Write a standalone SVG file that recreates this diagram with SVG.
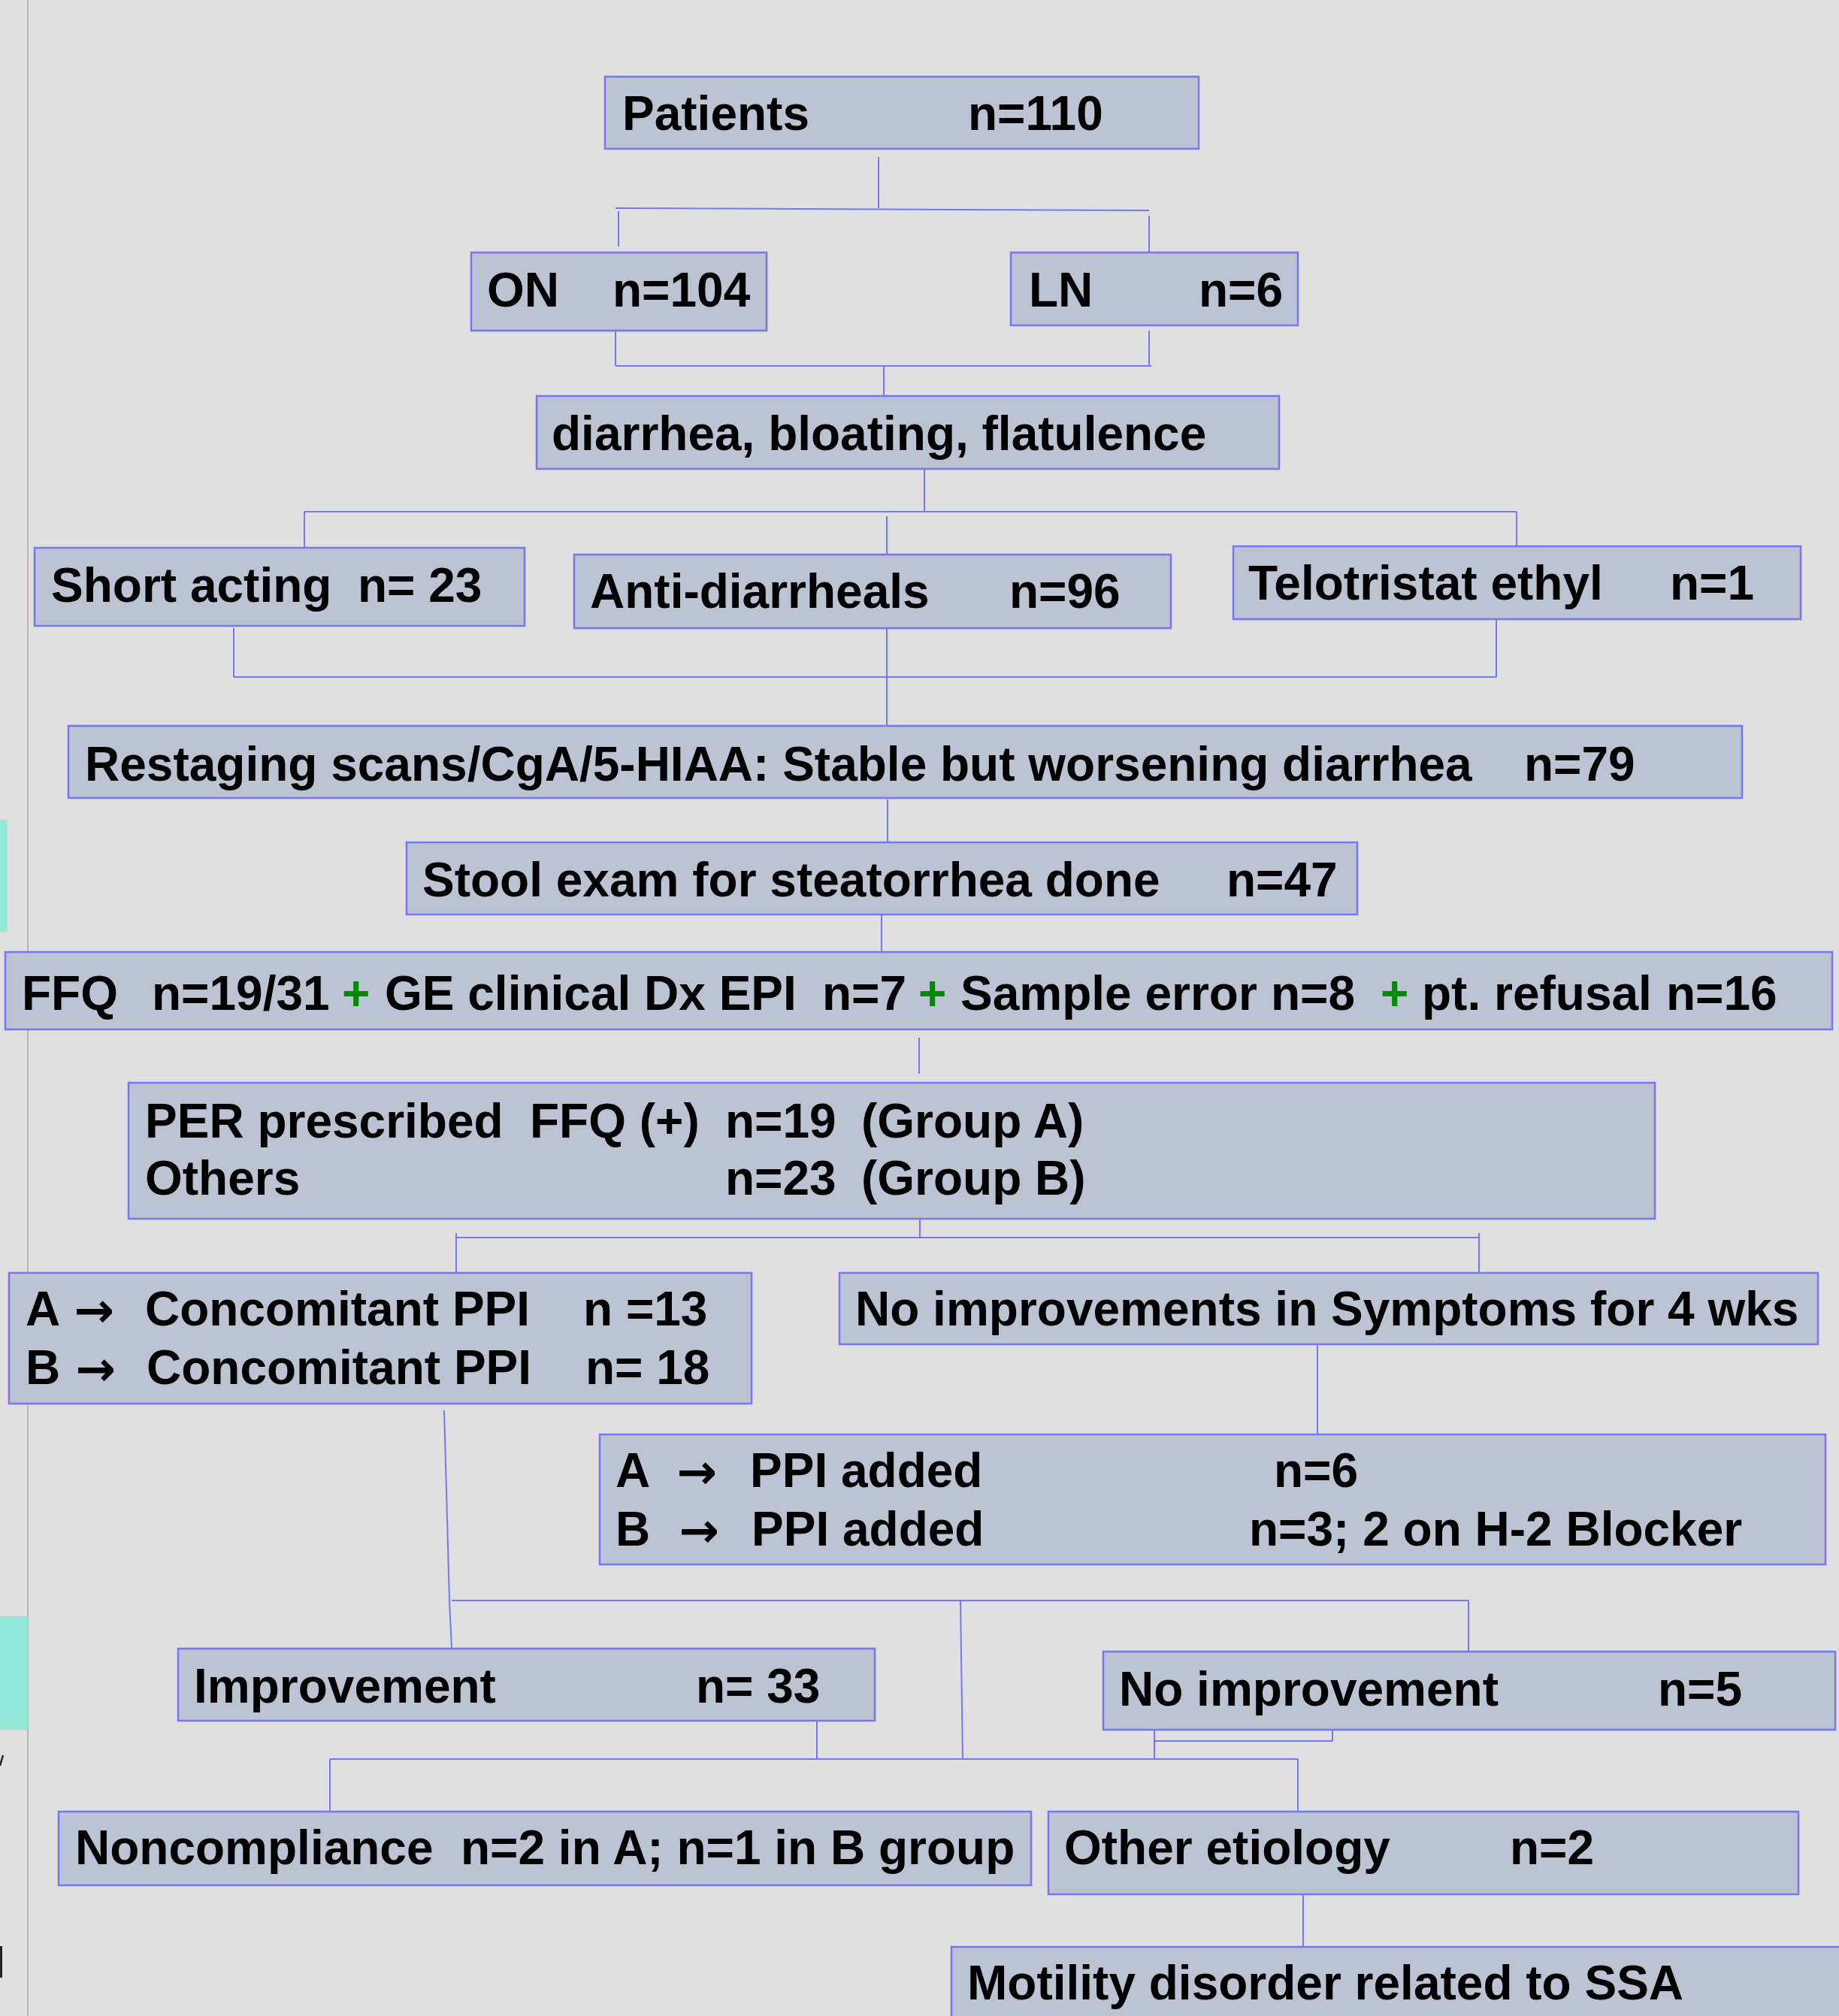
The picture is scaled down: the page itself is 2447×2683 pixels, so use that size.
<svg xmlns="http://www.w3.org/2000/svg" width="2447" height="2683" viewBox="0 0 2447 2683">
<style>
.box{fill:#bcc3d3;stroke:#7676f6;stroke-width:2.5}
.t{font-family:"Liberation Sans",Arial,"DejaVu Sans",sans-serif;font-weight:bold;font-size:64px;fill:#000}
.g{fill:#008a00}
.ar{font-family:"DejaVu Sans",sans-serif;font-weight:bold;font-size:64px;fill:#000;text-anchor:middle}
.c{stroke:#7676f6;stroke-width:2;fill:none}
</style>
<rect x="0" y="0" width="2447" height="2683" fill="#e0e0e0"/>
<g id="margin">
<line x1="37" y1="0" x2="37" y2="2683" stroke="#b4b4b4" stroke-width="2"/>
<rect x="0" y="1091" width="10" height="149" fill="#93e7d7"/>
<rect x="0" y="2151" width="37" height="151" fill="#93e7d7"/>
<line x1="0" y1="2350" x2="4" y2="2336" stroke="#222" stroke-width="2.5"/>
<line x1="1.5" y1="2590" x2="1.5" y2="2632" stroke="#222" stroke-width="3"/>
</g>
<g id="connectors">
<path class="c" d="M1169,209V277M819,277L1529,280M823,281V328M1529,287V336"/>
<path class="c" d="M819,434V487M1529,440V487M819,487H1532M1176,487V527"/>
<path class="c" d="M1230,625V681M405,681H2018M405,681V729M2018,681V727M1180,687V738"/>
<path class="c" d="M311,836V901M311,901H1991M1991,824V901M1180,836V966"/>
<path class="c" d="M1181,1064V1121M1173,1217V1286M1223,1381V1429"/>
<path class="c" d="M1224,1622V1647M607,1647H1968M607,1641V1695M1968,1641V1695M1753,1789V1909"/>
<path class="c" d="M591,1877L598,2130L601,2194M601,2130H1954M1954,2130V2198M1278,2131L1281,2341"/>
<path class="c" d="M1087,2290V2341" stroke="#4a4af0"/>
<path class="c" d="M439,2341H1727M439,2341V2411M1727,2341V2411"/>
<path class="c" d="M1773,2278H2008M1773,2278V2317M1536,2317H1773M1536,2277V2341"/>
<path class="c" d="M1734,2514V2591"/>
</g>
<g id="patients"><rect class="box" x="805" y="102" width="790" height="96"/>
<text class="t" x="828" y="173">Patients</text><text class="t" x="1288" y="173">n=110</text></g>
<g id="on"><rect class="box" x="627" y="336" width="393" height="104"/>
<text class="t" x="648" y="408">ON</text><text class="t" x="815" y="408">n=104</text></g>
<g id="ln"><rect class="box" x="1345" y="336" width="382" height="97"/>
<text class="t" x="1369" y="408">LN</text><text class="t" x="1595" y="408">n=6</text></g>
<g id="symptoms"><rect class="box" x="714" y="527" width="988" height="97"/>
<text class="t" x="734" y="599">diarrhea, bloating, flatulence</text></g>
<g id="short"><rect class="box" x="46" y="729" width="652" height="104"/>
<text class="t" x="68" y="801">Short acting</text><text class="t" x="476" y="801">n= 23</text></g>
<g id="anti"><rect class="box" x="764" y="738" width="794" height="98"/>
<text class="t" x="785" y="809">Anti-diarrheals</text><text class="t" x="1343" y="809">n=96</text></g>
<g id="telo"><rect class="box" x="1641" y="727" width="755" height="97"/>
<text class="t" x="1661" y="798">Telotristat ethyl</text><text class="t" x="2222" y="798">n=1</text></g>
<g id="restaging"><rect class="box" x="91" y="966" width="2227" height="96"/>
<text class="t" x="113" y="1039">Restaging scans/CgA/5-HIAA: Stable but worsening diarrhea</text><text class="t" x="2028" y="1039">n=79</text></g>
<g id="stool"><rect class="box" x="541" y="1121" width="1265" height="96"/>
<text class="t" x="562" y="1193">Stool exam for steatorrhea done</text><text class="t" x="1632" y="1193">n=47</text></g>
<g id="ffq"><rect class="box" x="7" y="1267" width="2431" height="103"/>
<text class="t" x="29" y="1344">FFQ</text><text class="t" x="202" y="1344">n=19/31</text>
<text class="t g" x="455" y="1344">+</text>
<text class="t" x="512" y="1344">GE clinical Dx EPI</text><text class="t" x="1094" y="1344">n=7</text>
<text class="t g" x="1222" y="1344">+</text>
<text class="t" x="1278" y="1344">Sample error</text><text class="t" x="1691" y="1344">n=8</text>
<text class="t g" x="1837" y="1344">+</text>
<text class="t" x="1892" y="1344">pt. refusal</text><text class="t" x="2217" y="1344">n=16</text></g>
<g id="per"><rect class="box" x="171" y="1441" width="2031" height="181"/>
<text class="t" x="193" y="1514">PER prescribed</text><text class="t" x="705" y="1514">FFQ (+)</text><text class="t" x="965" y="1514">n=19</text><text class="t" x="1146" y="1514">(Group A)</text>
<text class="t" x="193" y="1590">Others</text><text class="t" x="965" y="1590">n=23</text><text class="t" x="1146" y="1590">(Group B)</text></g>
<g id="concomitant"><rect class="box" x="12" y="1694" width="988" height="174"/>
<text class="t" x="34" y="1764">A</text><text class="ar" x="125" y="1766">→</text><text class="t" x="193" y="1764">Concomitant PPI</text><text class="t" x="776" y="1764">n =13</text>
<text class="t" x="34" y="1842">B</text><text class="ar" x="127" y="1844">→</text><text class="t" x="195" y="1842">Concomitant PPI</text><text class="t" x="779" y="1842">n= 18</text></g>
<g id="noimprovements"><rect class="box" x="1117" y="1694" width="1302" height="95"/>
<text class="t" x="1138" y="1764">No improvements in Symptoms for 4 wks</text></g>
<g id="ppiadded"><rect class="box" x="798" y="1909" width="1631" height="173"/>
<text class="t" x="819" y="1979">A</text><text class="ar" x="927" y="1981">→</text><text class="t" x="998" y="1979">PPI added</text><text class="t" x="1695" y="1979">n=6</text>
<text class="t" x="819" y="2057">B</text><text class="ar" x="930" y="2059">→</text><text class="t" x="1000" y="2057">PPI added</text><text class="t" x="1662" y="2057">n=3; 2 on H-2 Blocker</text></g>
<g id="improvement"><rect class="box" x="237" y="2194" width="927" height="96"/>
<text class="t" x="258" y="2266">Improvement</text><text class="t" x="926" y="2266">n= 33</text></g>
<g id="noimprovement"><rect class="box" x="1468" y="2198" width="974" height="104"/>
<text class="t" x="1489" y="2270">No improvement</text><text class="t" x="2206" y="2270">n=5</text></g>
<g id="noncompliance"><rect class="box" x="78" y="2411" width="1294" height="98"/>
<text class="t" x="100" y="2481">Noncompliance</text><text class="t" x="613" y="2481">n=2 in A; n=1 in B group</text></g>
<g id="other"><rect class="box" x="1395" y="2411" width="998" height="110"/>
<text class="t" x="1416" y="2481">Other etiology</text><text class="t" x="2009" y="2481">n=2</text></g>
<g id="motility"><rect class="box" x="1266" y="2591" width="1200" height="120"/>
<text class="t" x="1287" y="2661">Motility disorder related to SSA</text></g>
</svg>
